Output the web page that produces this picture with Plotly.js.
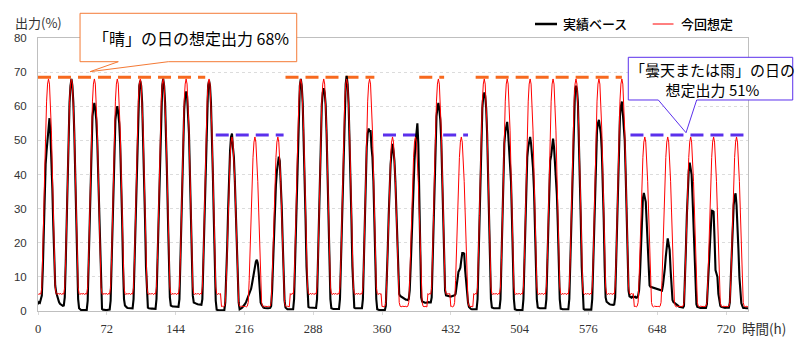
<!DOCTYPE html>
<html>
<head>
<meta charset="utf-8">
<script src="https://cdn.plot.ly/plotly-3.0.1.min.js"></script>
<style>html,body{margin:0;padding:0;background:#fff;}#chart{width:807px;height:355px;}</style>
</head>
<body>
<div id="chart"></div>
<script>
// ---- data ----
const seriesNames = ['実績ベース', '今回想定'];
const xTickValues = [0, 72, 144, 216, 288, 360, 432, 504, 576, 648, 720];
const yTickValues = [0, 10, 20, 30, 40, 50, 60, 70, 80];

// weather type of each of the 31 days ('晴' sunny, '曇' cloudy or rain)
const dayType = ['晴','晴','晴','晴','晴','晴','晴','晴','曇','曇','曇','晴','晴','晴','晴','曇',
                 '曇','晴','曇','晴','晴','晴','晴','晴','晴','晴','曇','曇','曇','曇','曇'];

// 今回想定: hourly assumed output (%) for a sunny day and for a cloudy/rainy day (hour 0..23)
const assumedSunnyDay  = [5.1,4.8,5.2,4.9,7,15,28,41,53,61.5,66.5,68,66.5,61.5,53,41,28,15,7,5.1,4.8,5.2,4.9,5.1];
const assumedCloudyDay = [1.3,1.4,1.2,1.4,2.5,9,19,29,38,45,49.5,51,49.5,45,38,29,19,9,2.5,1.4,1.2,1.4,1.3,1.2];

// 実績ベース: hourly actual-based output (%), one line per day
const actualOutput = [
2.0,2.6,2.4,3.6,4.5,12,25,36,43,47,51,54,56.5,52,45,36,25,13,7.5,5.5,4.2,3.3,2.6,2.1,
1.8,1.6,1.5,1.6,4,14,27,40,52,61,66,68,66,61,52,40,27,13,3.5,0.8,0.4,0.3,0.3,0.3,
0.3,0.3,0.3,0.3,3,14,27,40,51,57,59.5,61,59,56,50,40,27,13,3.5,0.6,0.4,0.3,0.3,0.3,
0.3,0.3,0.3,0.4,3,14,27,40,51,56,58.5,60,58,55,49,40,27,13,3.5,1.6,1.2,1.0,0.9,0.9,
0.9,0.8,0.8,0.8,3.5,14,27,40,52,61,66,67.5,66,61,52,40,27,13,3.5,1.0,0.8,0.7,0.7,0.7,
0.7,0.7,0.6,0.6,3.5,14,27,40,52,61,66,68,66,61,52,40,27,13,4,1.6,1.4,1.3,1.3,1.3,
1.3,1.2,1.2,1.2,3.5,14,27,40,52,59,63,64.3,63,59,52,40,27,13,4.5,2.5,2.3,2.2,2.1,2.0,
2.0,1.9,1.8,1.8,3.5,14,27,40,52,61,66,67.5,66,61,52,40,27,13,3,0.4,0.2,0.2,0.2,0.2,
0.2,0.2,0.2,0.3,2.5,9,19,30,40,47,51,52,48,45,38,29,19,9,2.5,0.5,0.6,0.8,1.1,1.4,
1.7,2.2,2.8,3.5,4.2,5,5.8,6.5,8,10,11.5,13,14.5,15,14,11,5,2.5,1.8,1.3,1.0,0.9,0.8,0.8,
0.8,0.8,0.8,0.9,1.5,6,14,23,31,37,41,43,45.2,44,39,31,21,10,3,1,0.6,0.5,0.5,0.5,
0.5,0.5,0.5,0.5,3.5,14,27,40,52,61,66,68,66,61,52,40,27,13,3.5,1.2,1.0,1.0,1.0,1.0,
1.0,1.0,0.9,0.9,3.5,14,27,40,52,60.5,64,65.3,64,60.5,52,40,27,13,3.5,0.8,0.6,0.6,0.6,0.6,
0.6,0.6,0.6,0.6,3.5,14,27,40,52,61,66.5,68.9,66.5,61,52,40,27,13,3.5,1.0,0.8,0.8,0.8,0.8,
0.8,0.8,0.8,0.8,3.5,14,27,40,48,52,53.5,52.5,53,48,45,38,27,13,3.5,0.5,0.3,0.3,0.3,0.3,
0.3,0.3,0.3,0.3,1.5,8,18,28,37,43,46.5,49,47,44,38,29,19,9,5,4.4,4.2,3.9,3.7,3.5,
3.4,3.3,3.3,3.2,3.5,6,13,22,31,38,44,49,52,55,49,30,10,4,2.8,2.6,2.5,2.4,2.4,2.5,
2.6,2.6,2.5,2.5,4,14,27,40,51,57,59.5,61,59,56,50,40,27,13,6,4.6,4.5,4.4,4.3,4.2,
4.2,4.3,4.4,4.5,4.6,5,7.2,9.5,11.5,12,12.7,15,17,17,16.8,12,8,5,2.5,1.2,0.8,0.6,0.5,0.5,
0.5,0.5,0.5,0.5,3.5,14,27,40,52,59.5,63,64,63,59.5,52,40,27,13,3.5,1.0,0.8,0.8,0.8,0.8,
0.8,0.8,0.8,0.8,3.5,14,27,40,49,52.5,54,55.4,52,48,44,38,27,13,3.5,0.5,0.3,0.3,0.3,0.3,
0.3,0.3,0.3,0.3,3.5,14,27,38,45,48,50,51,49,46,42,36,26,13,3.5,1.0,0.8,0.8,0.8,0.8,
0.8,0.8,0.8,0.8,3.5,14,27,38,44,45.5,48,50.5,48,44,40,34,25,13,3.5,0.7,0.5,0.5,0.5,0.5,
0.5,0.5,0.5,0.5,3.5,14,27,40,52,61,65,66,65,61,52,40,27,13,3.5,0.6,0.4,0.4,0.4,0.4,
0.4,0.4,0.4,0.4,3.5,14,27,40,49,53,55,56,54,52,47,39,27,13,4,2.7,2.4,2.2,2.0,1.9,
1.8,1.8,1.8,1.9,4,14,27,40,51,57,60,61.4,58,55,50,40,27,13,6,4.3,4.1,3.9,4.2,4.0,
4.1,4.2,3.9,4.0,4.5,6,11,19,27,33,34.6,32.5,32,26,18,11,7.5,7.1,7.0,6.9,6.8,6.7,6.6,6.5,
6.4,6.3,6.2,6.1,6.0,6.0,7.5,9.5,12.5,16,19,21.3,19.5,17.9,12,6,3.2,2.6,2.4,2.3,2.1,1.8,1.5,1.2,
1.1,1.0,1.0,1.0,1.5,8,18,28,36,41,43.5,41.5,40,33,24,14,5,2,1.2,1.0,1.0,0.9,0.9,0.9,
0.9,0.9,0.9,0.9,2,8,15,22,27,29.4,29.3,29.1,21,12,11,10,5,2.3,1.5,1.2,1.1,1.0,0.9,0.9,
1.0,1.0,1.0,1.0,2.5,9,18,26,31,33.5,34.5,31,26,18,10,4,2.3,1.5,0.9,0.9,0.8,0.8,0.8,0.8
];

// dashed reference levels (%), and the hour spans they are drawn over
const sunnyLevel = 68.5, cloudyLevel = 51.6;
const sunnySpanStart  = [0, 259, 399, 458];
const sunnySpanEnd    = [175, 352, 425, 611];
const cloudySpanStart = [186, 361, 424, 620];
const cloudySpanEnd   = [257, 402, 450, 742];

// ---- build traces ----
const hours = actualOutput.map((_, i) => i);
const assumedOutput = [];
dayType.forEach(t => (t === '晴' ? assumedSunnyDay : assumedCloudyDay).forEach(v => assumedOutput.push(v)));

function spans(starts, ends, level) {
  const x = [], y = [];
  starts.forEach((s, i) => { x.push(s, ends[i], null); y.push(level, level, null); });
  return {x, y};
}
const sunnyDash = spans(sunnySpanStart, sunnySpanEnd, sunnyLevel);
const cloudyDash = spans(cloudySpanStart, cloudySpanEnd, cloudyLevel);

const ORANGE = '#f7691e', VIOLET = '#5b30ec';
const traces = [
  {x: sunnyDash.x, y: sunnyDash.y, mode: 'lines', line: {color: ORANGE, width: 3, dash: '13px,7px'}, showlegend: false, connectgaps: false},
  {x: cloudyDash.x, y: cloudyDash.y, mode: 'lines', line: {color: VIOLET, width: 3, dash: '13px,7px'}, showlegend: false, connectgaps: false},
  {x: hours, y: actualOutput, name: seriesNames[0], mode: 'lines', line: {color: '#000000', width: 2.1}, showlegend: false},
  {x: hours, y: assumedOutput, name: seriesNames[1], mode: 'lines', line: {color: '#ff0000', width: 1}, showlegend: false}
];

// ---- layout helpers (pixel -> paper) ----
const L = 38, R = 59, T = 38, B = 44, W = 807, H = 355;
const PW = W - L - R, PH = H - T - B;
const fx = px => (px - L) / PW;
const fy = py => (H - B - py) / PH;
function pathOf(pts) {
  return pts.map((p, i) => (i ? 'L' : 'M') + fx(p[0]).toFixed(4) + ',' + fy(p[1]).toFixed(4)).join(' ') + ' Z';
}
const callout1 = [[80,13.3],[296.7,13.3],[296.7,61.7],[168.3,61.7],[90,71.7],[118.3,61.7],[80,61.7]];
const callout2 = [[628.3,57.3],[792.7,57.3],[792.7,100],[696.7,100],[686,132.7],[658.3,100],[628.3,100]];

const CJK = '"Noto Sans CJK JP", "Noto Sans", sans-serif';
const layout = {
  width: W, height: H,
  margin: {l: L, r: R, t: T, b: B, pad: 0},
  paper_bgcolor: '#ffffff', plot_bgcolor: '#ffffff',
  showlegend: false,
  hovermode: false,
  xaxis: {
    range: [0, 743], tickmode: 'array', tickvals: xTickValues,
    ticktext: xTickValues.map(String),
    showgrid: false, zeroline: false,
    showline: true, mirror: true, linecolor: '#bfbfbf', linewidth: 1,
    ticks: 'outside', ticklen: 3, tickcolor: '#d9d9d9',
    tickfont: {family: '"Liberation Serif", "DejaVu Serif", serif', size: 12.5, color: '#333333'},
    ticklabelstandoff: 3
  },
  yaxis: {
    range: [0, 80], tickmode: 'array', tickvals: yTickValues,
    showgrid: true, gridcolor: '#dcdcdc', gridwidth: 1, griddash: '3px,3px',
    zeroline: false,
    showline: true, mirror: true, linecolor: '#bfbfbf', linewidth: 1,
    ticks: '',
    tickfont: {family: '"Liberation Sans", Arial, sans-serif', size: 11.5, color: '#333333'},
    ticklabelstandoff: 8
  },
  shapes: [
    {type: 'path', xref: 'paper', yref: 'paper', path: pathOf(callout1), fillcolor: '#ffffff', line: {color: '#f47a36', width: 1}, layer: 'above'},
    {type: 'path', xref: 'paper', yref: 'paper', path: pathOf(callout2), fillcolor: '#ffffff', line: {color: VIOLET, width: 1}, layer: 'above'},
    {type: 'line', xref: 'paper', yref: 'paper', x0: fx(535), x1: fx(557), y0: fy(24), y1: fy(24), line: {color: '#000000', width: 2.5}},
    {type: 'line', xref: 'paper', yref: 'paper', x0: fx(652.7), x1: fx(673.5), y0: fy(24), y1: fy(24), line: {color: '#ff0000', width: 1}}
  ],
  annotations: [
    {text: '出力(%)', xref: 'paper', yref: 'paper', x: fx(38.5), y: fy(22.5), xanchor: 'center', yanchor: 'middle', showarrow: false,
     font: {family: CJK, size: 13, color: '#333333'}},
    {text: '時間(h)', xref: 'paper', yref: 'paper', x: fx(764), y: fy(328), xanchor: 'center', yanchor: 'middle', showarrow: false,
     font: {family: CJK, size: 13.5, color: '#333333'}},
    {text: seriesNames[0], xref: 'paper', yref: 'paper', x: fx(561), y: fy(24), xanchor: 'left', yanchor: 'middle', showarrow: false,
     font: {family: CJK, size: 13, color: '#000000', weight: 500}},
    {text: seriesNames[1], xref: 'paper', yref: 'paper', x: fx(679), y: fy(24), xanchor: 'left', yanchor: 'middle', showarrow: false,
     font: {family: CJK, size: 13, color: '#000000', weight: 500}},
    {text: '「晴」の日の想定出力 68%', xref: 'paper', yref: 'paper', x: fx(190.5), y: fy(38), xanchor: 'center', yanchor: 'middle', showarrow: false,
     font: {family: CJK, size: 16, color: '#000000'}},
    {text: '「曇天または雨」の日の<br>想定出力 51%', xref: 'paper', yref: 'paper', x: fx(712), y: fy(79.5), xanchor: 'center', yanchor: 'middle', showarrow: false,
     align: 'center', font: {family: CJK, size: 15, color: '#000000'}}
  ]
};

Plotly.newPlot('chart', traces, layout, {staticPlot: true, displayModeBar: false});
</script>
</body>
</html>
